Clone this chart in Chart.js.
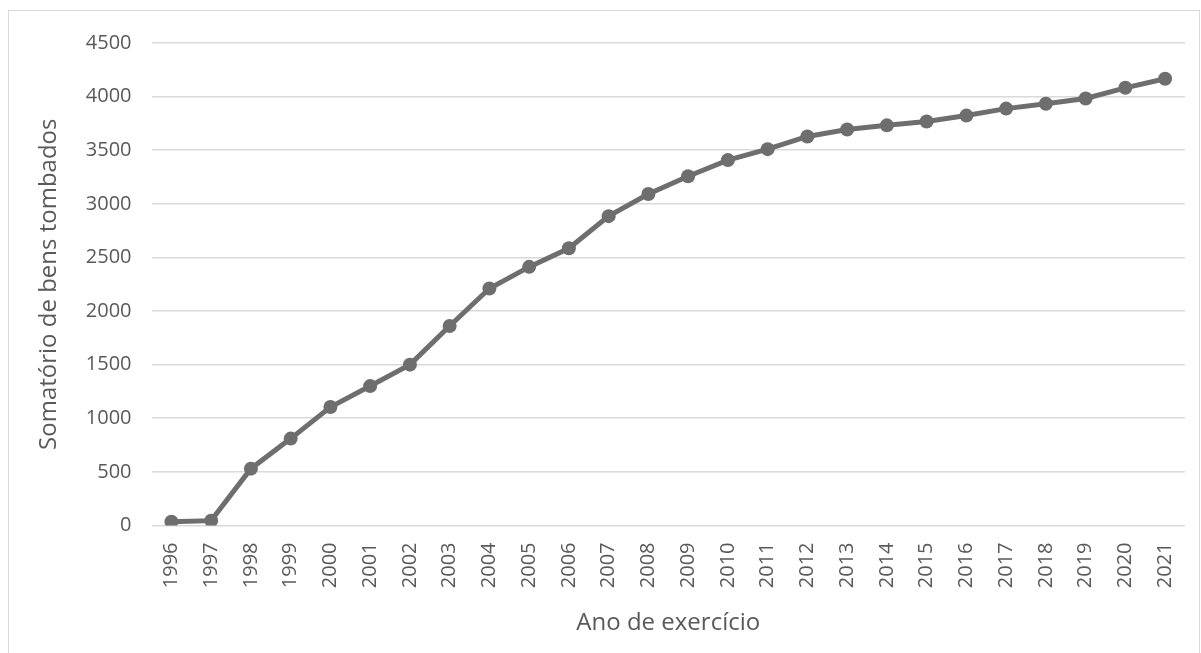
<!DOCTYPE html>
<html lang="pt">
<head>
<meta charset="UTF-8">
<title>Somatório de bens tombados</title>
<script src="https://cdn.jsdelivr.net/npm/chart.js"></script>
<style>
    body { margin: 0; background: #fff; }
    .quadro {
        position: absolute; left: 8px; top: 10px;
        width: 1192px; height: 650px;
        border: 1px solid #d9d9d9; box-sizing: border-box;
    }
</style>
</head>
<body>
<div class="quadro">
    <canvas id="grafico"></canvas>
</div>
<script>
    // Dados
    const anos = ["1996", "1997", "1998", "1999", "2000", "2001", "2002", "2003", "2004", "2005",
        "2006", "2007", "2008", "2009", "2010", "2011", "2012", "2013", "2014", "2015",
        "2016", "2017", "2018", "2019", "2020", "2021"];
    const somatorio = [35, 45, 530, 810, 1105, 1300, 1500, 1860, 2210, 2412,
        2585, 2885, 3092, 3257, 3408, 3510, 3628, 3693, 3732, 3768,
        3823, 3888, 3934, 3982, 4082, 4166];
    const ticksY = { min: 0, max: 4500, passo: 500 };

    const cinza = "#6e6e6e";
    const textoCor = "#595959";
    const fonte = "'Open Sans', sans-serif";

    new Chart(document.getElementById("grafico"), {
        type: "line",
        data: {
            labels: anos,
            datasets: [{
                data: somatorio,
                borderColor: cinza,
                backgroundColor: cinza,
                borderWidth: 5,
                pointRadius: 7,
                pointBackgroundColor: cinza,
                pointBorderWidth: 0,
                tension: 0
            }]
        },
        options: {
            responsive: true,
            maintainAspectRatio: false,
            animation: false,
            layout: { padding: { top: 2, right: 14, left: 26, bottom: 21 } },
            plugins: { legend: { display: false }, tooltip: { enabled: false } },
            scales: {
                x: {
                    offset: true,
                    grid: { display: false },
                    border: { display: false },
                    ticks: {
                        color: textoCor, minRotation: 90, maxRotation: 90, padding: 9,
                        font: { family: fonte, size: 20 }
                    },
                    title: {
                        display: true, text: "Ano de exercício", color: textoCor,
                        font: { family: fonte, size: 24 }, padding: { top: 12, bottom: 0 }
                    }
                },
                y: {
                    min: ticksY.min, max: ticksY.max,
                    grid: { color: "#d9d9d9", lineWidth: 1.5, drawTicks: false },
                    border: { display: false },
                    ticks: {
                        stepSize: ticksY.passo, color: textoCor, padding: 20,
                        font: { family: fonte, size: 20 },
                        callback: v => String(v)
                    },
                    title: {
                        display: true, text: "Somatório de bens tombados", color: textoCor,
                        font: { family: fonte, size: 24 }, padding: { top: 0, bottom: 2 }
                    }
                }
            }
        }
    });
</script>
</body>
</html>
